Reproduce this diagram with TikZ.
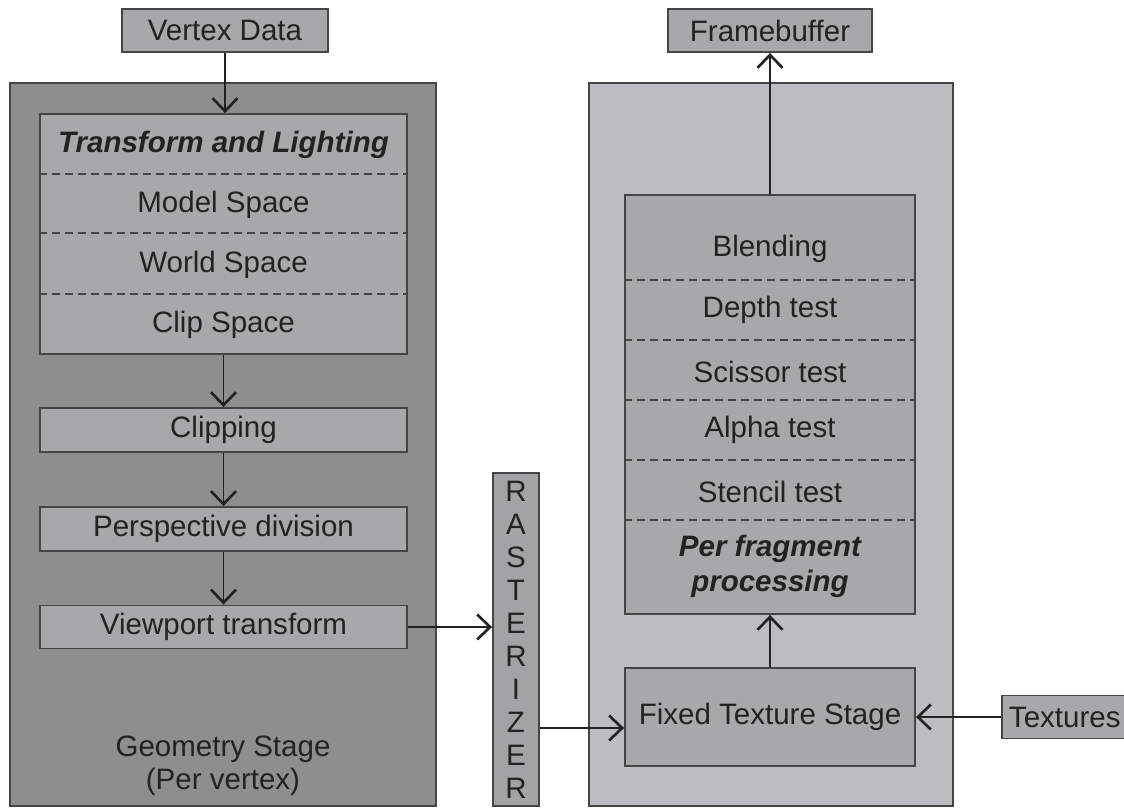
\documentclass[tikz,border=0pt]{standalone}
\usepackage{fontspec}
\setmainfont{Liberation Sans}
\usetikzlibrary{arrows.meta}
\definecolor{geomfill}{HTML}{8E8E8F}
\definecolor{fragfill}{HTML}{BCBDC1}
\definecolor{boxfill}{HTML}{A8A8AA}
\definecolor{edgegray}{HTML}{454545}
\definecolor{inkgray}{HTML}{222222}
\tikzset{
  lbl/.style={text=inkgray, font=\fontsize{16.8}{19}\selectfont},
  stagebox/.style={draw=edgegray, line width=1.1pt, inner sep=0pt},
  stepbox/.style={draw=edgegray, line width=1.1pt, fill=boxfill, inner sep=0pt, lbl},
  divider/.style={draw=edgegray, line width=1pt, dash pattern=on 0.16cm off 0.1cm},
  flow/.style={draw=inkgray, line width=0.9pt, -{Straight Barb[length=2.6mm,width=5mm,line width=1.5pt]}}
}
\begin{document}
\begin{tikzpicture}[x=0.02cm,y=-0.02cm]
  \useasboundingbox[fill=white] (0,0) rectangle (1124,811);
  \node[stagebox, fill=geomfill, minimum width=8.52cm, minimum height=14.46cm] (geom) at (223,444.5) {};
  \node[stagebox, fill=fragfill, minimum width=7.28cm, minimum height=14.46cm] (frst) at (771,444.5) {};
  \node[stepbox, minimum width=4.12cm, minimum height=0.86cm] (vdata) at (225,30.5) {Vertex Data};
  \node[stepbox, minimum width=4.08cm, minimum height=0.86cm] (fbuf) at (770,30.5) {Framebuffer};
  \node[stepbox, minimum width=7.34cm, minimum height=4.8cm] (tl) at (223.5,234) {};
  \node[lbl, font=\fontsize{16.8}{19}\selectfont\bfseries\itshape] (tlhead) at (223.5,145) {Transform and Lighting};
  \node[lbl] (model) at (223.5,205) {Model Space};
  \node[lbl] (world) at (223.5,265) {World Space};
  \node[lbl] (clipsp) at (223.5,325) {Clip Space};
  \foreach \yy in {174,233,294}
    \draw[divider] (tl.west |- 0,\yy) -- (tl.east |- 0,\yy);
  \node[stepbox, minimum width=7.34cm, minimum height=0.88cm] (clip) at (223.5,430) {Clipping};
  \node[stepbox, minimum width=7.34cm, minimum height=0.88cm] (persp) at (223.5,529) {Perspective division};
  \node[stepbox, minimum width=7.34cm, minimum height=0.86cm] (vport) at (223.5,627) {Viewport transform};
  \node[lbl, align=center, font=\fontsize{16.8}{18.7}\selectfont] (geomlbl) at (223,766) {Geometry Stage\\(Per vertex)};
  \node[stepbox, fill=boxfill!97!black, minimum width=0.92cm, minimum height=6.66cm, align=center,
    font=\fontsize{16.8}{18.8}\selectfont] (rast) at (516,639.5) {R\\A\\S\\T\\E\\R\\I\\Z\\E\\R};
  \node[stepbox, minimum width=5.8cm, minimum height=8.38cm] (frag) at (770,404.5) {};
  \node[lbl] (blend) at (770,249) {Blending};
  \node[lbl] (depth) at (770,310) {Depth test};
  \node[lbl] (sciss) at (770,372) {Scissor test};
  \node[lbl] (alpha) at (770,430) {Alpha test};
  \node[lbl] (stencil) at (770,492) {Stencil test};
  \node[lbl, align=center, font=\fontsize{16.8}{19.8}\selectfont\bfseries\itshape] (pfrag) at (770,566) {Per fragment\\processing};
  \foreach \yy in {280,340,400,460,520}
    \draw[divider] (frag.west |- 0,\yy) -- (frag.east |- 0,\yy);
  \node[stepbox, minimum width=5.8cm, minimum height=1.96cm] (fixed) at (770,717) {Fixed Texture Stage};
  \node[stepbox, minimum height=0.86cm, text width=2.3cm, inner xsep=0.14cm, align=left, anchor=west] (tex) at (1001,717) {Textures};
  \draw[flow] (vdata.south) -- (vdata.south |- tl.north);
  \draw[flow] (tl.south) -- (clip.north);
  \draw[flow] (clip.south) -- (persp.north);
  \draw[flow] (persp.south) -- (vport.north);
  \draw[flow] (vport.east) -- (vport.east -| rast.west);
  \coordinate (rin) at ([yshift=-2.2mm]fixed.west);
  \draw[flow] (rin -| rast.east) -- (rin);
  \draw[flow] (tex.west) -- (fixed.east);
  \draw[flow] (fixed.north) -- (frag.south);
  \draw[flow] (frag.north) -- (fbuf.south);
\end{tikzpicture}
\end{document}
